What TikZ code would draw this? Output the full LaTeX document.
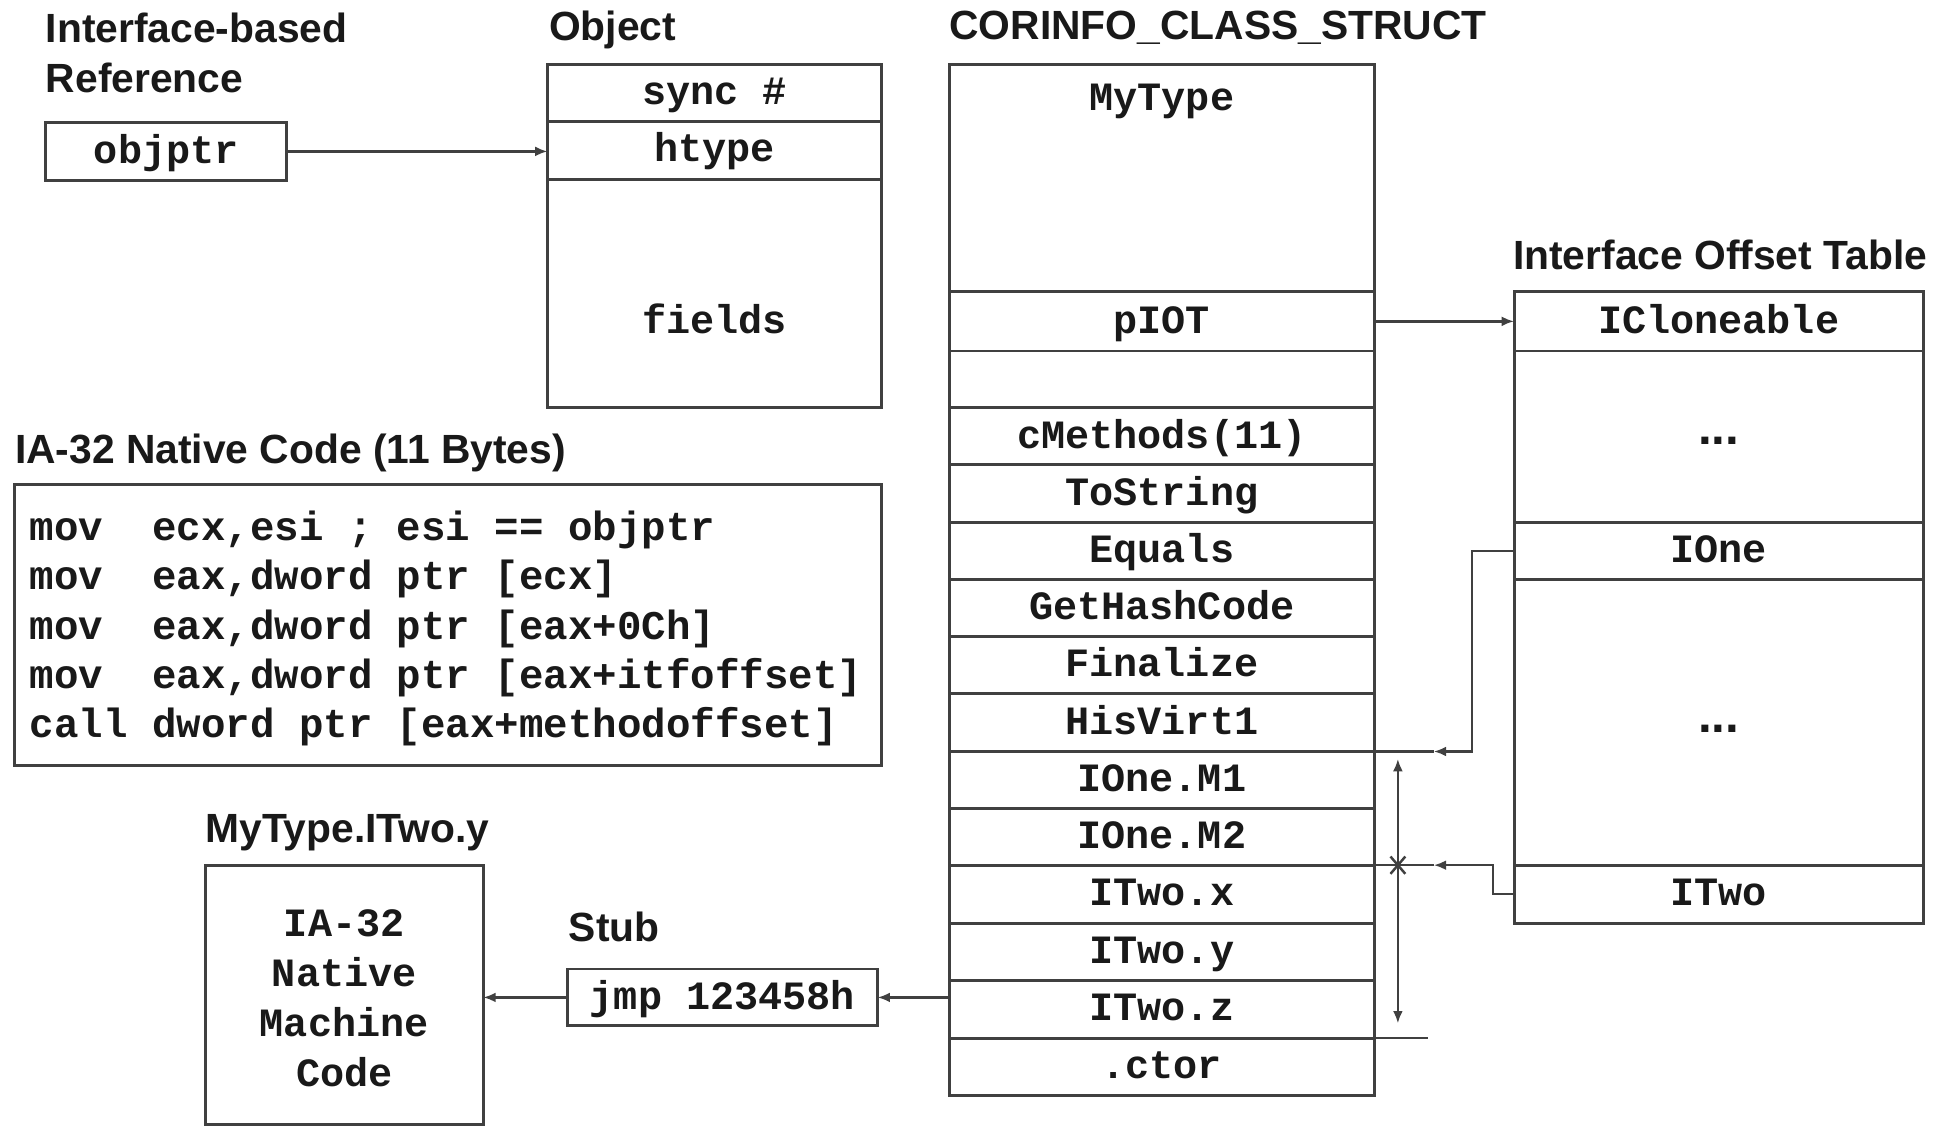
\documentclass[tikz,border=0pt]{standalone}
\usepackage{fontspec}
\setmainfont{Liberation Sans}
\newfontfamily\codefont{Liberation Mono}
\usetikzlibrary{arrows.meta}
\definecolor{linec}{gray}{0.25}
\definecolor{txtc}{gray}{0.1}
\frenchspacing
\tikzset{
  box/.style={draw=linec,line width=2.4pt,inner sep=0pt,outer sep=0pt},
  mono/.style={font=\codefont\bfseries\fontsize{32.5}{40.5}\selectfont, text=txtc},
  dots/.style={font=\bfseries\fontsize{40}{44}\selectfont, text=txtc, inner sep=0pt, anchor=base},
  title/.style={font=\bfseries\fontsize{33}{40}\selectfont, text=txtc, anchor=base west, inner sep=0pt},
  cellc/.style={box, mono, minimum width=344pt, text height=19pt, text depth=0pt},
  celli/.style={box, mono, minimum width=331pt, text height=19pt, text depth=0pt},
  cello/.style={box, mono, minimum width=270pt, text height=19pt, text depth=0pt},
  txt/.style={mono, inner sep=0pt, text height=19pt, text depth=0pt},
  codeline/.style={font=\codefont\bfseries\fontsize{33}{40.5}\selectfont, text=txtc, inner sep=0pt, anchor=base west},
  conn/.style={draw=linec, line width=2pt},
  arr/.style={conn, -{Latex[length=10pt,width=8pt]}},
}
\begin{document}
\begin{tikzpicture}[x=1pt,y=-1pt]
\useasboundingbox (0,0) rectangle (1568,912);
% titles
\node[title] (t1) at (37,34) {Interface-based};
\node[title] (t2) at (37,75) {Reference};
\node[title] (t3) at (444,33) {Object};
\node[title] (t4) at (768,32) {CORINFO\_CLASS\_STRUCT};
\node[title] (t5) at (1224,218) {Interface Offset Table};
\node[title] (t6) at (12,375) {IA-32 Native Code (11 Bytes)};
\node[title] (t7) at (166,682) {MyType.ITwo.y};
\node[title] (t8) at (460,762) {Stub};

% objptr
\node[box, mono, minimum width=195pt, minimum height=47pt, text height=19pt, text depth=0pt] (objptr) at (134.5,122.5) {objptr};

% Object
\node[cello, minimum height=46pt] (sync) at (578,75) {sync \#};
\node[cello, minimum height=47pt] (htype) at (578,121.5) {htype};
\node[cello, minimum height=185pt] (fieldsbox) at (578,237.5) {};
\node[txt] (fields) at (578,260) {fields};

% CORINFO_CLASS_STRUCT
\node[cellc, minimum height=184pt] (mytypebox) at (940,144) {};
\node[txt] (mytype) at (940,80) {MyType};
\node[cellc, minimum height=48pt] (piot) at (940,260) {pIOT};
\node[cellc, minimum height=46pt] (blank) at (940,307) {};
\node[cellc, minimum height=46pt] (cmeth) at (940,353) {cMethods(11)};
\node[cellc, minimum height=47pt] (tostr) at (940,399.5) {ToString};
\node[cellc, minimum height=46pt] (equals) at (940,446) {Equals};
\node[cellc, minimum height=46pt] (ghc) at (940,492) {GetHashCode};
\node[cellc, minimum height=46pt] (finalize) at (940,538) {Finalize};
\node[cellc, minimum height=47pt] (hisvirt) at (940,584.5) {HisVirt1};
\node[cellc, minimum height=46pt] (ionem1) at (940,631) {IOne.M1};
\node[cellc, minimum height=46pt] (ionem2) at (940,677) {IOne.M2};
\node[cellc, minimum height=47pt] (itwox) at (940,723.5) {ITwo.x};
\node[cellc, minimum height=46pt] (itwoy) at (940,770) {ITwo.y};
\node[cellc, minimum height=47pt] (itwoz) at (940,816.5) {ITwo.z};
\node[cellc, minimum height=46pt] (ctor) at (940,863) {.ctor};

% Interface Offset Table
\node[celli, minimum height=48pt] (iclone) at (1390.5,260) {ICloneable};
\node[celli, minimum height=139pt] (iotgap1) at (1390.5,353.5) {};
\node[dots] (dots1) at (1390.5,360) {...};
\node[celli, minimum height=46pt] (ione) at (1390.5,446) {IOne};
\node[celli, minimum height=231pt] (iotgap2) at (1390.5,584.5) {};
\node[dots] (dots2) at (1390.5,593) {...};
\node[celli, minimum height=47pt] (itwo) at (1390.5,723.5) {ITwo};

% IA-32 code
\node[box, minimum width=701pt, minimum height=227pt] (codebox) at (362.5,505.5) {};
\node[codeline] (c1) at (24,437) {mov\ \ ecx,esi ; esi == objptr};
\node[codeline] (c2) at (24,477) {mov\ \ eax,dword ptr [ecx]};
\node[codeline] (c3) at (24,517) {mov\ \ eax,dword ptr [eax+0Ch]};
\node[codeline] (c4) at (24,557) {mov\ \ eax,dword ptr [eax+itfoffset]};
\node[codeline] (c5) at (24,597) {call dword ptr [eax+methodoffset]};

% stub and native code
\node[box, mono, minimum width=251pt, minimum height=46pt, text height=19pt, text depth=0pt] (stub) at (584.5,807) {jmp 123458h};
\node[box, minimum width=225pt, minimum height=210pt] (native) at (278.5,805) {};
\node[mono, align=center, inner sep=0pt] (nativetxt) at (278.5,807.5) {IA-32\\Native\\Machine\\Code};

% connectors
\draw[arr] (objptr.east) -- (objptr.east -| htype.west);
\draw[arr] (piot.east) -- (iclone.west);

\coordinate (ionein) at (1160,608);
\coordinate (itwoin) at (1160,700);
\draw[arr] (ione.west) -- ++(-34,0) |- (ionein);
\draw[conn] (hisvirt.south east) -- (ionein);
\draw[arr] (itwo.west) -- ++(-17,0) |- (itwoin);
\draw[conn] (ionem2.south east) -- (itwoin);

\coordinate (brtop) at (1131,608);
\coordinate (brbot) at (1131,840);
\coordinate (brtick) at (1155,840);
\draw[conn, {Latex[length=10pt,width=8pt]}-{Latex[length=10pt,width=8pt]}, shorten <=6pt, shorten >=12pt] (brtop) -- (brbot);
\draw[conn] (itwoz.south east) -- (brtick);
\coordinate (xm) at (1131,700);
\draw[conn] (xm) ++(-6,-7) -- ++(12,14) (xm) ++(-6,7) -- ++(12,-14);

\draw[arr] (itwoz.west |- stub.east) -- (stub.east);
\draw[arr] (stub.west) -- (native.east |- stub.west);
\end{tikzpicture}
\end{document}
